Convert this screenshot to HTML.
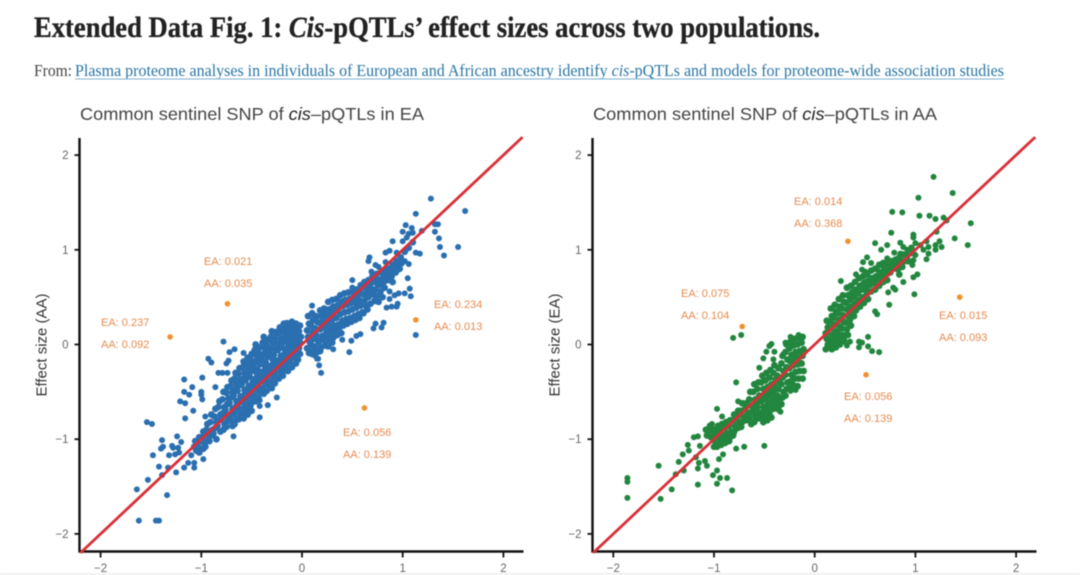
<!DOCTYPE html>
<html lang="en">
<head>
<meta charset="utf-8">
<title>Extended Data Fig. 1</title>
<style>
html,body{margin:0;padding:0;background:#fff;width:1080px;height:575px;overflow:hidden}
svg{display:block;position:absolute;left:0;top:0;filter:blur(0.45px)}
.sans{font-family:"Liberation Sans",sans-serif}
.serif{font-family:"Liberation Serif",serif}
</style>
</head>
<body>
<svg id="figure" width="1080" height="575" viewBox="0 0 1080 575" xmlns="http://www.w3.org/2000/svg">
<rect width="1080" height="575" fill="#fff"/>
<rect y="573" width="1080" height="2" fill="#f1f1f1"/>
<text class="serif" x="34" y="37" font-size="30" font-weight="700" fill="#222" stroke="#222" stroke-width="0.35" textLength="786" lengthAdjust="spacingAndGlyphs">Extended Data Fig. 1: <tspan font-style="italic">Cis</tspan>-pQTLs’ effect sizes across two populations.</text>
<text class="serif" x="34" y="76" font-size="17" fill="#444" textLength="38" lengthAdjust="spacingAndGlyphs">From:</text>
<text class="serif" x="75" y="76" font-size="17" fill="#2a76a4" textLength="929" lengthAdjust="spacingAndGlyphs">Plasma proteome analyses in individuals of European and African ancestry identify <tspan font-style="italic">cis</tspan>-pQTLs and models for proteome-wide association studies</text>
<rect x="75" y="78.5" width="929" height="1" fill="#7db4d2"/>
<g id="panel-ea"></g>
<g id="panel-aa"></g>
</svg>
<script>
const tickValues = [-2, -1, 0, 1, 2];
const tickLabels = ["−2", "−1", "0", "1", "2"];
const identityLine = [-2.2, 2.19];

const eaOutliers = [[1.13,.26],[-1.31,.08],[-.74,.43],[.62,-.67]];
const aaOutliers = [[.33,1.09],[-.72,.19],[1.44,.5],[.51,-.32]];

const eaAnnotations = [
  ["EA: 0.237","AA: 0.092",101,326],
  ["EA: 0.021","AA: 0.035",204,265],
  ["EA: 0.234","AA: 0.013",434,308],
  ["EA: 0.056","AA: 0.139",343,436]
];
const aaAnnotations = [
  ["EA: 0.014","AA: 0.368",794,205],
  ["EA: 0.075","AA: 0.104",681,297],
  ["EA: 0.015","AA: 0.093",939,319],
  ["EA: 0.056","AA: 0.139",844,400]
];

const eaSparse = [
[-.78,.03],[-.72,-.08],[-.67,-.05],[-.93,-.15],[-.9,-.19],[-.75,-.2],[-.73,-.17],[-.58,-.09],[-.83,-.3],[-.79,-.3],[-.74,-.3],[-.99,-.35],[-1.17,-.37],[-1.09,-.45],[-1.17,-.5],[-1.12,-.53],[-1,-.5],[-1,-.53],[-.99,-.58],[-1.21,-.6],[-1.16,-.62],[-.86,-.45],[-1.08,-.7],[-1.16,-.78],[-.96,-.76],[-1.54,-.82],[-1.49,-.84],[-1.24,-.97],[-1.39,-1.01],[-1.2,-1.03],[-1.29,-1.07],[-1.38,-1.08],[-1.4,-1.1],[-1.23,-1.09],[-1.28,-1.09],[-1.48,-1.17],[-1.32,-1.17],[-1.26,-1.16],[-1.22,-1.14],[-1.1,-1.17],[-.98,-1.21],[-1.42,-1.29],[-1.33,-1.3],[-1.13,-1.25],[-1.07,-1.25],[-1.17,-1.3],[-1.07,-1.3],[-1.25,-1.35],[-1.39,-1.38],[-1.53,-1.43],[-1.64,-1.53],[-1.34,-1.59],[-1.62,-1.86],[-1.45,-1.86],[-1.42,-1.86],[-.68,-.97],[-.42,-.77],[-.25,-.56],[-.42,-.59],[-.42,-.65],[-.34,-.64],
[1.28,1.54],[1.62,1.41],[1.13,1.38],[1.03,1.26],[1.09,1.23],[1,1.19],[1.06,1.17],[1.1,1.18],[1.19,1.2],[1.32,1.27],[1.35,1.27],[1.32,1.19],[1.36,1.12],[1.37,1.03],[1.41,.94],[1.55,1.03],[.9,1.09],[1,1.09],[1.04,1.13],[1.13,.97],[1.17,.96],[.83,.97],[.87,.99],[.94,.97],[.67,.92],[.66,.88],[1.06,.85],[1.02,.88],[.83,.87],[.73,.84],[.76,.82],[.69,.77],[.74,.75],[.92,.8],[.96,.79],[.91,.77],[.86,.73],[.81,.73],[.5,.68],[1.05,.7],[.5,.6],[.58,.63],[1.07,.59],[1.08,.51],[1.02,.54],[.96,.54],[.92,.52],[.87,.56],[.87,.48],[.95,.43],[.94,.4],[.89,.4],[.84,.39],[.1,.41],[-.15,.23],[-.18,.19],[.81,.23],[.79,.18],[.73,.22],[.71,.17],[.58,.11],[.54,.09],[.49,.04],[.47,-.08],[.4,.05],[.31,-.05],[1.13,.1],[.16,-.15],[.15,-.15],[.17,-.22],[.19,-.3],[.13,-.12]
];
const eaDenseLow = [
[-.02,.2],[-.03,.14],[-.01,.08],[-.02,.02],[-.03,-.04],[-.02,-.1],[-.04,-.16],
[-.06,.22],[-.07,.16],[-.05,.1],[-.06,.04],[-.07,-.02],[-.05,-.08],[-.07,-.14],[-.06,-.2],
[-.1,.24],[-.11,.18],[-.09,.12],[-.1,.06],[-.11,0],[-.09,-.06],[-.1,-.12],[-.12,-.18],[-.1,-.24],
[-.14,.2],[-.15,.14],[-.13,.08],[-.14,.02],[-.15,-.04],[-.13,-.1],[-.14,-.16],[-.16,-.22],[-.14,-.28],
[-.18,.22],[-.19,.15],[-.17,.09],[-.18,.03],[-.2,-.03],[-.17,-.09],[-.18,-.15],[-.2,-.21],[-.18,-.27],[-.19,-.33],
[-.22,.18],[-.23,.12],[-.21,.06],[-.22,0],[-.24,-.06],[-.21,-.12],[-.22,-.18],[-.23,-.24],[-.21,-.3],[-.23,-.36],
[-.26,.13],[-.27,.07],[-.25,.01],[-.26,-.05],[-.28,-.11],[-.25,-.17],[-.26,-.23],[-.27,-.29],[-.25,-.35],[-.27,-.41],
[-.3,.14],[-.31,.08],[-.29,.02],[-.3,-.04],[-.32,-.1],[-.29,-.16],[-.3,-.22],[-.31,-.28],[-.29,-.34],[-.31,-.4],[-.3,-.46],
[-.34,.05],[-.35,-.01],[-.33,-.07],[-.34,-.13],[-.36,-.19],[-.33,-.25],[-.34,-.31],[-.35,-.37],[-.33,-.43],[-.35,-.49],
[-.38,.08],[-.39,.02],[-.37,-.04],[-.38,-.1],[-.4,-.16],[-.37,-.22],[-.38,-.28],[-.39,-.34],[-.37,-.4],[-.39,-.46],[-.38,-.52],
[-.42,-.03],[-.43,-.09],[-.41,-.15],[-.42,-.21],[-.44,-.27],[-.41,-.33],[-.42,-.39],[-.43,-.45],[-.41,-.51],[-.43,-.57],
[-.46,0],[-.47,-.06],[-.45,-.12],[-.46,-.18],[-.48,-.24],[-.45,-.3],[-.46,-.36],[-.47,-.42],[-.45,-.48],[-.47,-.54],[-.46,-.6],
[-.5,-.1],[-.51,-.16],[-.49,-.22],[-.5,-.28],[-.52,-.34],[-.49,-.4],[-.5,-.46],[-.51,-.52],[-.49,-.58],[-.51,-.64],[-.5,-.7],
[-.54,-.14],[-.55,-.2],[-.53,-.26],[-.54,-.32],[-.56,-.38],[-.53,-.44],[-.54,-.5],[-.55,-.56],[-.53,-.62],[-.55,-.68],[-.54,-.74],
[-.58,-.18],[-.59,-.24],[-.57,-.3],[-.58,-.36],[-.6,-.42],[-.57,-.48],[-.58,-.54],[-.59,-.6],[-.57,-.66],[-.59,-.72],[-.58,-.78],
[-.62,-.25],[-.63,-.31],[-.61,-.37],[-.62,-.43],[-.64,-.49],[-.61,-.55],[-.62,-.61],[-.63,-.67],[-.61,-.73],[-.63,-.79],
[-.66,-.3],[-.67,-.36],[-.65,-.42],[-.66,-.48],[-.68,-.54],[-.65,-.6],[-.66,-.66],[-.67,-.72],[-.65,-.78],[-.67,-.84],
[-.7,-.38],[-.71,-.44],[-.69,-.5],[-.7,-.56],[-.72,-.62],[-.69,-.68],[-.7,-.74],[-.71,-.8],[-.69,-.86],
[-.74,-.45],[-.75,-.51],[-.73,-.57],[-.74,-.63],[-.76,-.69],[-.73,-.75],[-.74,-.81],[-.75,-.87],
[-.78,-.5],[-.79,-.58],[-.77,-.66],[-.78,-.72],[-.8,-.78],[-.77,-.84],[-.78,-.9],
[-.82,-.6],[-.83,-.66],[-.81,-.74],[-.82,-.8],[-.84,-.86],[-.81,-.92],
[-.86,-.68],[-.87,-.76],[-.85,-.82],[-.86,-.88],[-.88,-.94],[-.85,-1],
[-.9,-.74],[-.91,-.82],[-.89,-.9],[-.9,-.96],[-.92,-1.02],
[-.94,-.84],[-.95,-.9],[-.93,-.96],[-.94,-1.02],[-.96,-1.08],
[-.98,-.92],[-.99,-.98],[-.97,-1.04],[-.98,-1.1],
[-1.02,-.98],[-1.03,-1.04],[-1.01,-1.1],[-1.02,-1.14],
[-1.06,-1.02],[-1.07,-1.08],[-1.05,-1.12]
];
const eaDenseHigh = [
[.06,.3],[.07,.22],[.05,.15],[.06,.08],[.08,.02],[.05,-.04],[.07,-.09],
[.1,.33],[.11,.26],[.09,.2],[.1,.13],[.12,.06],[.09,0],[.11,-.06],[.1,-.1],
[.14,.3],[.15,.24],[.13,.17],[.14,.1],[.16,.04],[.13,-.02],[.15,-.08],
[.18,.36],[.19,.3],[.17,.23],[.18,.16],[.2,.09],[.17,.03],[.19,-.03],[.18,-.07],
[.22,.38],[.23,.32],[.21,.25],[.22,.18],[.24,.12],[.21,.05],[.23,-.01],
[.26,.45],[.27,.37],[.25,.3],[.26,.22],[.28,.16],[.25,.09],[.27,.03],[.26,-.02],
[.3,.47],[.31,.4],[.29,.33],[.3,.26],[.32,.2],[.29,.13],[.31,.07],[.3,.02],
[.34,.48],[.35,.41],[.33,.35],[.34,.28],[.36,.21],[.33,.15],[.35,.1],
[.38,.52],[.39,.45],[.37,.39],[.38,.32],[.4,.25],[.37,.18],[.39,.12],
[.42,.54],[.43,.47],[.41,.41],[.42,.34],[.44,.27],[.41,.2],
[.46,.55],[.47,.48],[.45,.42],[.46,.35],[.48,.28],[.45,.22],
[.5,.56],[.51,.5],[.49,.44],[.5,.37],[.52,.3],[.49,.24],
[.54,.58],[.55,.52],[.53,.45],[.54,.39],[.56,.32],[.53,.26],
[.58,.6],[.59,.54],[.57,.47],[.58,.41],[.6,.34],[.57,.28],
[.62,.66],[.63,.6],[.61,.53],[.62,.46],[.64,.4],[.61,.33],
[.66,.68],[.67,.62],[.65,.56],[.66,.5],[.68,.43],[.65,.37],
[.7,.72],[.71,.66],[.69,.59],[.7,.53],[.72,.46],
[.74,.7],[.75,.64],[.73,.58],[.74,.51],[.76,.45],
[.78,.76],[.79,.69],[.77,.63],[.78,.56],[.8,.5],
[.82,.78],[.83,.72],[.81,.66],[.82,.6],
[.86,.8],[.87,.74],[.85,.68],
[.9,.84],[.91,.78],[.89,.72],[.9,.66],
[.94,.88],[.95,.82],[.93,.76],
[.98,.92],[.99,.86],[.97,.8],[1.02,.98],[1.06,1.02],[1.1,1.08]
];

const aaSparse = [
[1.18,1.77],[1.03,1.55],[1.37,1.6],[.77,1.4],[.87,1.395],[1.04,1.36],[1.14,1.36],[1.2,1.325],[1.28,1.34],[1.31,1.31],[1.55,1.28],[1.21,1.19],[.76,1.18],[.98,1.16],[.98,1.13],[1.39,1.12],[1.52,1.05],[.6,1.07],[.72,1.05],[.66,1],[.85,1.075],[.88,1.03],[.92,1],[1,1.07],[1.05,1.05],[1.11,1.09],[1.24,1.09],[1.2,1.05],[1.26,1.03],[1.2,1],[1.13,1.03],[1.08,1],[1.13,.96],[1.11,.9],[.79,.97],[.85,.96],[.97,.96],[1,.945],[.98,.89],[.97,.84],[.72,.91],[.8,.9],[.52,.92],[.48,.87],[.56,.86],[.47,.79],[.41,.74],[.5,.77],[.62,.79],[.26,.67],[1.02,.74],[.98,.71],[.99,.53],[.88,.66],[.78,.6],[.8,.58],[.73,.55],[.74,.42],[.6,.35],[.62,.32],[.53,.08],[.44,.03],[.47,.02],[.44,-.03],[.53,-.02],[.57,-.07],[.64,-.08],[.35,.03],[.29,.03],[.32,-.01],
[-.81,.07],[-.73,.1],[-.43,.005],[-.45,-.016],[-.48,-.076],[-.4,-.076],[-.31,-.1],[-.51,-.146],[-.41,-.157],[-.55,-.245],[-.78,-.4],[-.97,-.68],[-.76,-.6],[-.92,-.76],[-1.02,-.84],[-1.2,-.98],[-1.16,-.97],[-1.26,-1.06],[-1.25,-1.12],[-1.31,-1.16],[-1.14,-1.07],[-1.35,-1.24],[-1.18,-1.19],[-1.09,-1.23],[-1.07,-1.28],[-1.15,-1.25],[-1.16,-1.31],[-1.55,-1.28],[-1.3,-1.33],[-1.38,-1.37],[-.95,-1.21],[-.91,-1.16],[-.97,-1.33],[-1.01,-1.38],[-.94,-1.41],[-.87,-1.41],[-.97,-1.47],[-1.16,-1.48],[-1.42,-1.53],[-.82,-1.54],[-1.53,-1.63],[-1.86,-1.41],[-1.86,-1.45],[-1.86,-1.62],[-.78,-1.1],[-.7,-1.08],[-.5,-1.07],[-.34,-.71],[-.36,-.69],[-.19,-.48],[-.24,-.49],[-.16,.1],[-.24,.08],[-.29,.02]
];
const aaDenseLow = [
[-.12,.08],[-.13,.02],[-.11,-.05],[-.12,-.12],[-.13,-.2],[-.11,-.28],[-.12,-.36],
[-.16,.07],[-.17,0],[-.15,-.07],[-.16,-.14],[-.17,-.21],[-.15,-.28],[-.16,-.36],[-.17,-.44],
[-.2,.06],[-.21,-.01],[-.19,-.08],[-.2,-.15],[-.21,-.22],[-.19,-.29],[-.2,-.36],[-.21,-.43],
[-.24,.03],[-.25,-.04],[-.23,-.11],[-.24,-.18],[-.25,-.25],[-.23,-.32],[-.24,-.39],[-.25,-.46],
[-.28,0],[-.29,-.08],[-.27,-.16],[-.28,-.24],[-.29,-.32],[-.27,-.4],[-.28,-.47],[-.29,-.54],
[-.32,-.12],[-.33,-.2],[-.31,-.28],[-.32,-.35],[-.33,-.42],[-.31,-.5],[-.32,-.56],[-.33,-.63],
[-.36,-.25],[-.37,-.33],[-.35,-.4],[-.36,-.47],[-.37,-.54],[-.35,-.6],[-.36,-.66],
[-.4,-.22],[-.41,-.3],[-.39,-.37],[-.4,-.44],[-.41,-.5],[-.39,-.56],[-.4,-.62],[-.41,-.68],
[-.44,-.27],[-.45,-.35],[-.43,-.42],[-.44,-.48],[-.45,-.54],[-.43,-.6],[-.44,-.66],[-.45,-.72],[-.43,-.77],
[-.48,-.3],[-.49,-.38],[-.47,-.45],[-.48,-.52],[-.49,-.58],[-.47,-.64],[-.48,-.7],[-.49,-.76],[-.47,-.8],
[-.52,-.33],[-.53,-.4],[-.51,-.47],[-.52,-.54],[-.53,-.6],[-.51,-.66],[-.52,-.72],[-.53,-.78],[-.51,-.82],
[-.56,-.4],[-.57,-.47],[-.55,-.54],[-.56,-.6],[-.57,-.66],[-.55,-.72],[-.56,-.78],
[-.6,-.42],[-.61,-.5],[-.59,-.58],[-.6,-.64],[-.61,-.7],[-.59,-.76],[-.6,-.82],
[-.64,-.5],[-.65,-.58],[-.63,-.65],[-.64,-.72],[-.65,-.78],[-.63,-.84],
[-.68,-.62],[-.69,-.68],[-.67,-.74],[-.68,-.8],
[-.72,-.62],[-.73,-.7],[-.71,-.76],[-.72,-.82],[-.73,-.87],
[-.76,-.7],[-.77,-.76],[-.75,-.82],[-.76,-.88],
[-.8,-.74],[-.81,-.8],[-.79,-.86],[-.8,-.92],[-.81,-.96],
[-.84,-.8],[-.85,-.86],[-.83,-.92],[-.84,-.98],[-.85,-1.02],
[-.88,-.82],[-.89,-.88],[-.87,-.94],[-.88,-1],[-.89,-1.04],
[-.92,-.84],[-.93,-.9],[-.91,-.96],[-.92,-1.02],[-.93,-1.06],
[-.96,-.86],[-.97,-.92],[-.95,-.98],[-.96,-1.04],[-.97,-1.08],
[-1,-.9],[-1.01,-.96],[-.99,-1.02],[-1,-1.08],
[-1.04,-.86],[-1.05,-.92],[-1.03,-.98],
[-1.08,-.9],[-1.07,-.96]
];
const aaDenseHigh = [
[.12,.25],[.13,.18],[.11,.12],[.12,.06],[.13,0],[.11,-.05],
[.16,.38],[.17,.3],[.15,.24],[.16,.17],[.17,.1],[.15,.04],[.16,-.02],[.17,-.05],
[.2,.42],[.21,.35],[.19,.28],[.2,.21],[.21,.14],[.19,.08],[.2,.02],[.21,-.03],
[.24,.48],[.25,.4],[.23,.33],[.24,.26],[.25,.19],[.23,.12],[.24,.06],[.25,0],
[.28,.52],[.29,.45],[.27,.38],[.28,.31],[.29,.24],[.27,.17],[.28,.1],[.29,.05],
[.32,.6],[.33,.52],[.31,.44],[.32,.37],[.33,.3],[.31,.23],[.32,.16],[.33,.1],
[.36,.62],[.37,.55],[.35,.47],[.36,.4],[.37,.33],[.35,.26],[.36,.2],
[.4,.66],[.41,.58],[.39,.5],[.4,.43],[.41,.36],[.39,.3],
[.44,.7],[.45,.62],[.43,.54],[.44,.47],[.45,.4],
[.48,.72],[.49,.65],[.47,.58],[.48,.5],[.49,.44],
[.52,.74],[.53,.67],[.51,.6],[.52,.54],[.53,.48],
[.56,.78],[.57,.7],[.55,.63],[.56,.56],
[.6,.8],[.61,.72],[.59,.65],[.6,.58],
[.64,.84],[.65,.76],[.63,.69],[.64,.62],
[.68,.86],[.69,.8],[.67,.72],[.68,.66],
[.72,.86],[.73,.8],[.71,.74],[.72,.68],
[.76,.88],[.77,.82],[.75,.76],
[.8,.86],[.81,.8],
[.84,.92],[.85,.86],[.83,.8],[.84,.74],
[.88,.95],[.89,.88],[.87,.82],
[.92,.94],[.93,.88],[.96,1.02],[.97,.98]
];

const svgNS = "http://www.w3.org/2000/svg";

function makeEl(parent, tag, attrs, text) {
  const el = document.createElementNS(svgNS, tag);
  for (const key in attrs) el.setAttribute(key, attrs[key]);
  if (text !== undefined) el.textContent = text;
  parent.appendChild(el);
  return el;
}

function drawPanel(cfg) {
  const g = document.getElementById(cfg.id);
  const sx = v => cfg.x0 + cfg.ux * v;
  const sy = v => cfg.y0 - cfg.uy * v;
  const bottom = 551.5;
  const top = 138;

  const title = makeEl(g, "text", {class:"sans", x:cfg.titleX, y:120, "font-size":17.5, fill:"#444", textLength:344, lengthAdjust:"spacingAndGlyphs"});
  
  
  title.appendChild(document.createTextNode("Common sentinel SNP of "));
  const em = makeEl(title, "tspan", {"font-style":"italic", "fill":"#222"}, "cis");
  
  
  title.appendChild(document.createTextNode("–pQTLs in " + cfg.pop));

  const yAxis = makeEl(g, "line", {x1:cfg.spine, x2:cfg.spine, y1:top, y2:bottom+1, stroke:"#111", "stroke-width":2.4});
  
  
  const xAxis = makeEl(g, "line", {x1:cfg.spine-1, x2:cfg.spine+444, y1:bottom, y2:bottom, stroke:"#111", "stroke-width":2.4});
  
  

  tickValues.forEach((v, i) => {
    const tx = makeEl(g, "line", {x1:sx(v), x2:sx(v), y1:bottom, y2:bottom+6, stroke:"#111", "stroke-width":1.8});
    
    
    const lx = makeEl(g, "text", {class:"sans", x:sx(v), y:572, "font-size":11.5, fill:"#666", "text-anchor":"middle"}, tickLabels[i]);
    
    
    const ty = makeEl(g, "line", {x1:cfg.spine-5, x2:cfg.spine, y1:sy(v), y2:sy(v), stroke:"#111", "stroke-width":1.8});
    
    
    const ly = makeEl(g, "text", {class:"sans", x:cfg.spine-11, y:sy(v)+4, "font-size":11.5, fill:"#666", "text-anchor":"end"}, tickLabels[i]);
    
    
  });

  const yTitleX = cfg.spine - 33;
  const yTitle = makeEl(g, "text", {class:"sans", x:yTitleX, y:345, "font-size":15, fill:"#333", "text-anchor":"middle", transform:"rotate(-90 " + yTitleX + " 345)"}, cfg.yLabel);
  
  

  cfg.dense.forEach(p => {
    const c = makeEl(g, "circle", {cx:sx(p[0]), cy:sy(p[1]), r:3.4, fill:cfg.color});
    
    
  });
  cfg.sparse.forEach(p => {
    const c = makeEl(g, "circle", {cx:sx(p[0]), cy:sy(p[1]), r:3, fill:cfg.color});
    
    
  });

  const line = makeEl(g, "line", {x1:sx(identityLine[0]), y1:sy(identityLine[0]), x2:sx(identityLine[1]), y2:sy(identityLine[1]), stroke:"#da2f38", "stroke-width":2.8});
  
  

  cfg.outliers.forEach(p => {
    const c = makeEl(g, "circle", {cx:sx(p[0]), cy:sy(p[1]), r:2.8, fill:"#f0912f"});
    
    
  });

  cfg.annotations.forEach(a => {
    const t1 = makeEl(g, "text", {class:"sans", x:a[2], y:a[3], "font-size":11, fill:"#e58a4e"}, a[0]);
    
    
    const t2 = makeEl(g, "text", {class:"sans", x:a[2], y:a[3]+22, "font-size":11, fill:"#e58a4e"}, a[1]);
    
    
  });
}

drawPanel({id:"panel-ea", pop:"EA", yLabel:"Effect size (AA)", titleX:80, x0:302, y0:344.5, ux:100.7, uy:94.7, spine:79.5, color:"#2a6fb0",
  dense:eaDenseLow.concat(eaDenseHigh), sparse:eaSparse, outliers:eaOutliers, annotations:eaAnnotations});
drawPanel({id:"panel-aa", pop:"AA", yLabel:"Effect size (EA)", titleX:593, x0:814.7, y0:344.5, ux:100.7, uy:94.7, spine:592.5, color:"#22863f",
  dense:aaDenseLow.concat(aaDenseHigh), sparse:aaSparse, outliers:aaOutliers, annotations:aaAnnotations});
</script>
</body>
</html>
